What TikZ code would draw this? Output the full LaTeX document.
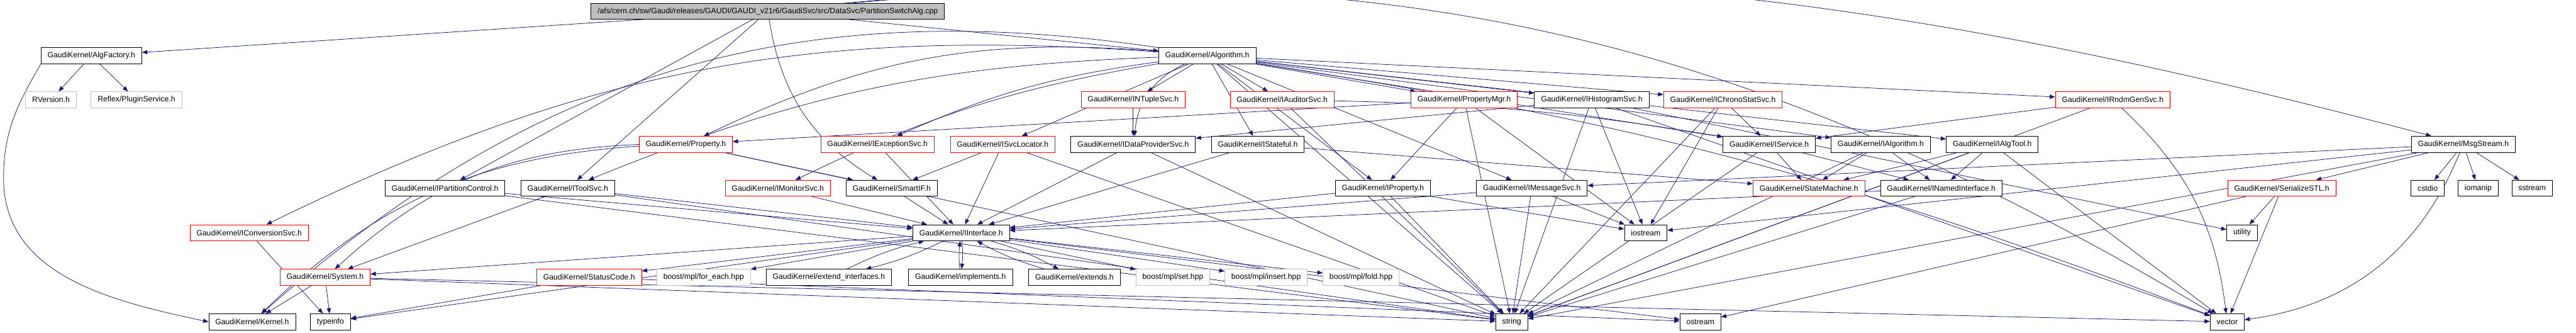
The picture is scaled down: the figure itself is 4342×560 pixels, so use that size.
\documentclass[tikz,border=0pt]{standalone}
\usepackage{fontspec}
\setmainfont{Liberation Sans}
\usetikzlibrary{arrows.meta}
\definecolor{edgeBlue}{HTML}{191970}
\definecolor{boxRed}{HTML}{FF0000}
\definecolor{boxGrey}{HTML}{BFBFBF}
\pgfdeclarelayer{edges}
\pgfsetlayers{edges,main}
\tikzset{
  hdr/.style   = {draw=black, fill=white, line width=0.09pt, inner xsep=1.1pt,
                  inner ysep=0pt, minimum height=2.7pt,
                  font=\fontsize{1.3}{1.5}\selectfont},
  trunc/.style = {hdr, draw=boxRed},
  undoc/.style = {hdr, draw=boxGrey},
  root/.style  = {hdr, fill=boxGrey, minimum height=2.6pt},
  dep/.style   = {edgeBlue, line width=0.08pt, -{Triangle[length=0.9pt, width=0.7pt]}},
}

\begin{document}
\begin{tikzpicture}[x=0.1pt, y=-0.1pt]
  \useasboundingbox (0,0) rectangle (4342,560);
  % the source file
  \node[root] (psa) at (1294,19)
    {/afs/cern.ch/sw/Gaudi/releases/GAUDI/GAUDI\_v21r6/GaudiSvc/src/DataSvc/PartitionSwitchAlg.cpp};
  % first level
  \node[hdr]   (algfactory) at (154,94)   {GaudiKernel/AlgFactory.h};
  \node[hdr]   (algorithm)  at (2035,94)  {GaudiKernel/Algorithm.h};
  \node[undoc] (rversion)   at (86,168)   {RVersion.h};
  \node[undoc] (pluginsvc)  at (230,168)  {Reflex/PluginService.h};
  \node[trunc] (intuple)    at (1910,168) {GaudiKernel/INTupleSvc.h};
  \node[trunc] (iauditor)   at (2161,168) {GaudiKernel/IAuditorSvc.h};
  \node[trunc] (propmgr)    at (2468,168) {GaudiKernel/PropertyMgr.h};
  \node[hdr]   (ihisto)     at (2683,168) {GaudiKernel/IHistogramSvc.h};
  \node[trunc] (ichrono)    at (2904,168) {GaudiKernel/IChronoStatSvc.h};
  \node[trunc] (irndm)      at (3561,168) {GaudiKernel/IRndmGenSvc.h};
  % second level
  \node[trunc] (property)   at (1156,243) {GaudiKernel/Property.h};
  \node[trunc] (iexcept)    at (1479,243) {GaudiKernel/IExceptionSvc.h};
  \node[trunc] (isvcloc)    at (1690,243) {GaudiKernel/ISvcLocator.h};
  \node[hdr]   (idataprov)  at (1910,243) {GaudiKernel/IDataProviderSvc.h};
  \node[hdr]   (istateful)  at (2120,243) {GaudiKernel/IStateful.h};
  \node[hdr]   (iservice)   at (2982,243) {GaudiKernel/IService.h};
  \node[hdr]   (ialgorithm) at (3170,243) {GaudiKernel/IAlgorithm.h};
  \node[hdr]   (ialgtool)   at (3358,243) {GaudiKernel/IAlgTool.h};
  \node[hdr]   (msgstream)  at (4152,243) {GaudiKernel/MsgStream.h};
  % third level
  \node[hdr]   (ipartition) at (750,317)  {GaudiKernel/IPartitionControl.h};
  \node[hdr]   (itoolsvc)   at (957,317)  {GaudiKernel/IToolSvc.h};
  \node[trunc] (imonitor)   at (1311,317) {GaudiKernel/IMonitorSvc.h};
  \node[hdr]   (smartif)    at (1503,317) {GaudiKernel/SmartIF.h};
  \node[hdr]   (iproperty)  at (2331,317) {GaudiKernel/IProperty.h};
  \node[hdr]   (imsgsvc)    at (2582,317) {GaudiKernel/IMessageSvc.h};
  \node[trunc] (statemach)  at (3049,317) {GaudiKernel/StateMachine.h};
  \node[hdr]   (inamed)     at (3272,317) {GaudiKernel/INamedInterface.h};
  \node[trunc] (serialstl)  at (3846,317) {GaudiKernel/SerializeSTL.h};
  \node[hdr]   (cstdio)     at (4092,317) {cstdio};
  \node[hdr]   (iomanip)    at (4177,317) {iomanip};
  \node[hdr]   (sstream)    at (4268,317) {sstream};
  % fourth level
  \node[trunc] (iconv)      at (420,392)  {GaudiKernel/IConversionSvc.h};
  \node[hdr]   (iinterface) at (1620,392) {GaudiKernel/IInterface.h};
  \node[hdr]   (iostream)   at (2774,392) {iostream};
  \node[hdr]   (utility)    at (3779,392) {utility};
  % fifth level
  \node[trunc] (system)     at (548,467)  {GaudiKernel/System.h};
  \node[trunc] (statuscode) at (993,467)  {GaudiKernel/StatusCode.h};
  \node[undoc] (foreach)    at (1186,467) {boost/mpl/for\_each.hpp};
  \node[hdr]   (extendif)   at (1397,467) {GaudiKernel/extend\_interfaces.h};
  \node[hdr]   (implements) at (1619,467) {GaudiKernel/implements.h};
  \node[hdr]   (extends)    at (1811,467) {GaudiKernel/extends.h};
  \node[undoc] (mplset)     at (1977,467) {boost/mpl/set.hpp};
  \node[undoc] (mplinsert)  at (2134,467) {boost/mpl/insert.hpp};
  \node[undoc] (mplfold)    at (2294,467) {boost/mpl/fold.hpp};
  % system headers at the bottom
  \node[hdr]   (kernel)     at (425,542)  {GaudiKernel/Kernel.h};
  \node[hdr]   (typeinfo)   at (557,542)  {typeinfo};
  \node[hdr]   (string)     at (2548,542) {string};
  \node[hdr]   (ostream)    at (2866,542) {ostream};
  \node[hdr]   (vector)     at (3754,542) {vector};

  \begin{pgfonlayer}{edges}
    % AlgFactory -> Kernel runs down the left margin
    \coordinate (leftbend) at (6,300);
    \draw[dep] (algfactory.south west) to[out=240, in=90] (leftbend)
                                       to[out=-90, in=168] (kernel.west);
    \foreach \src/\dst/\bnd in {
      psa/algfactory/0, psa/algorithm/0, psa/ipartition/0, psa/itoolsvc/0,
      psa/smartif/-25, psa/msgstream/10, psa/vector/18,
      algfactory/rversion/0, algfactory/pluginsvc/0,
      algorithm/property/-15, algorithm/propmgr/0, algorithm/iproperty/0,
      algorithm/ialgorithm/0, algorithm/iservice/0, algorithm/isvcloc/0,
      algorithm/imsgsvc/0, algorithm/istateful/0, algorithm/idataprov/-30,
      algorithm/ihisto/0, algorithm/iconv/-15, algorithm/intuple/0,
      algorithm/ichrono/0, algorithm/irndm/0, algorithm/iauditor/0,
      algorithm/itoolsvc/-10, algorithm/imonitor/-8, algorithm/iexcept/-8,
      algorithm/ialgtool/0, algorithm/kernel/-25, algorithm/string/0,
      algorithm/vector/6,
      intuple/idataprov/0, iauditor/iservice/4, iauditor/string/0,
      propmgr/property/0, propmgr/iproperty/0, propmgr/iostream/0, propmgr/string/0,
      ihisto/idataprov/0, ihisto/iostream/0, ihisto/string/0, ihisto/utility/0,
      ihisto/vector/0,
      ichrono/iservice/0, ichrono/iostream/0, ichrono/string/0,
      irndm/iservice/0, irndm/vector/20, irndm/string/0,
      property/kernel/-20, property/system/-20, property/smartif/0,
      property/string/0,
      iexcept/iinterface/0, isvcloc/iinterface/0, isvcloc/smartif/0,
      isvcloc/string/0, idataprov/iinterface/0, idataprov/string/0,
      istateful/iinterface/0, istateful/statemach/0,
      iservice/inamed/0, iservice/statemach/0, iservice/string/0,
      ialgorithm/statemach/0, ialgorithm/inamed/0, ialgorithm/string/0,
      ialgtool/statemach/0, ialgtool/inamed/0, ialgtool/string/0,
      ialgtool/vector/0,
      msgstream/imsgsvc/0, msgstream/serialstl/0, msgstream/cstdio/0,
      msgstream/iomanip/0, msgstream/sstream/0, msgstream/iostream/0,
      msgstream/string/0, msgstream/vector/30,
      ipartition/iinterface/0, ipartition/string/0,
      itoolsvc/system/0, itoolsvc/iinterface/0, itoolsvc/string/0,
      imonitor/iinterface/0, smartif/iinterface/0,
      iproperty/iinterface/0, iproperty/string/0, iproperty/iostream/0,
      imsgsvc/iinterface/0, imsgsvc/string/0, imsgsvc/iostream/0,
      inamed/iinterface/0, inamed/string/0,
      serialstl/utility/0, serialstl/vector/0, serialstl/ostream/0,
      iconv/typeinfo/0,
      iinterface/system/0, iinterface/statuscode/0, iinterface/foreach/0,
      iinterface/extendif/6, extendif/iinterface/6,
      iinterface/implements/6, implements/iinterface/6,
      iinterface/extends/6, extends/iinterface/6,
      iinterface/mplset/0, iinterface/mplinsert/0, iinterface/mplfold/0,
      iinterface/ostream/0, iinterface/typeinfo/0,
      system/kernel/0, system/typeinfo/0, system/string/0, system/vector/0,
      statuscode/typeinfo/0, statuscode/ostream/0} {
      \draw[dep] (\src) to[bend left=\bnd] (\dst);
    }
  \end{pgfonlayer}
\end{tikzpicture}
\end{document}
